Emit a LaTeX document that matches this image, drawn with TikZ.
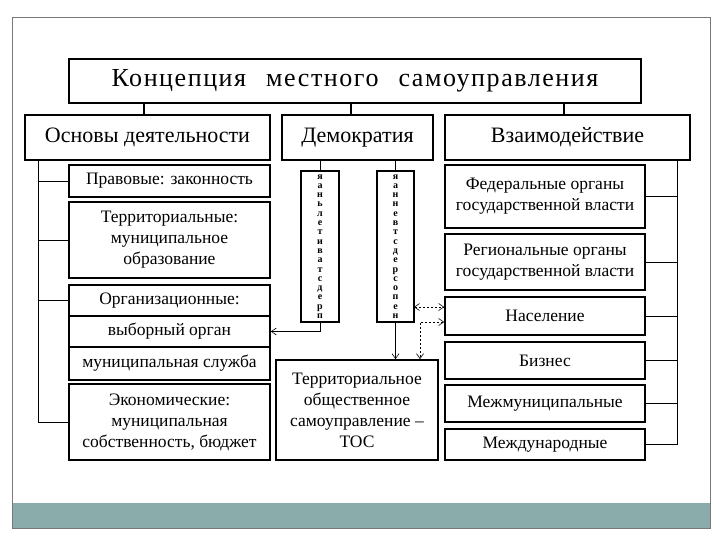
\documentclass[tikz,border=0pt]{standalone}
\usepackage{fontspec}
\setmainfont{Liberation Serif}
\usetikzlibrary{arrows.meta}
\definecolor{teal1}{RGB}{138,172,170}
\definecolor{frame1}{RGB}{120,120,120}
\tikzset{
  box/.style={draw, line width=1.7pt, inner sep=1pt, align=center, font=\fontsize{17.5}{21}\selectfont},
  headbox/.style={box, font=\fontsize{22}{24}\selectfont},
  vbox/.style={draw, line width=1.7pt, inner sep=0pt, align=center, font=\fontsize{10}{9.3}\selectfont\bfseries},
  conn/.style={line width=0.6pt},
  arr/.style={conn, -{Straight Barb[length=5pt,width=7pt]}},
  darr/.style={conn, dashed, dash pattern=on 2.5pt off 1.5pt, {Straight Barb[length=5pt,width=7pt]}-{Straight Barb[length=5pt,width=7pt]}}
}
\begin{document}
\begin{tikzpicture}[x=1pt,y=-1pt]
\useasboundingbox (0,0) rectangle (720,540);
% slide frame
\fill[teal1] (12,503) rectangle (710,528);
\draw[frame1, line width=0.7pt] (12,17) rectangle (710,528);

% title
\node[box, minimum width=572pt, minimum height=44pt, font=\fontsize{26}{28}\selectfont\addfontfeature{LetterSpace=6}] (title) at (355,81)
  {Концепция\hspace{20pt}местного\hspace{20pt}самоуправления};

% second row
\node[headbox, minimum width=245pt, minimum height=45pt] (osn) at (147.5,137.5) {Основы деятельности};
\node[headbox, minimum width=151pt, minimum height=45pt] (dem) at (357.5,137.5) {Демократия};
\node[headbox, minimum width=245pt, minimum height=45pt] (vz) at (567.5,137.5) {Взаимодействие};

% left column
\node[box, minimum width=201pt, minimum height=32pt] (pr) at (169.5,181) {Правовые: законность};
\node[box, minimum width=201pt, minimum height=76pt] (ter) at (169.5,240) {Территориальные:\\муниципальное\\образование};
\node[box, minimum width=201pt, minimum height=31pt] (org) at (169.5,300.5) {Организационные:};
\node[box, minimum width=201pt, minimum height=31pt] (vyb) at (169.5,331.5) {выборный орган};
\node[box, minimum width=201pt, minimum height=33pt] (mun) at (169.5,363.5) {муниципальная служба};
\node[box, minimum width=201pt, minimum height=76pt] (eko) at (169.5,422) {Экономические:\\муниципальная\\собственность, бюджет};

% middle
\node[vbox, minimum width=38pt, minimum height=151pt] (vL) at (320,246.5)
  {я\\а\\н\\ь\\л\\е\\т\\и\\в\\а\\т\\с\\д\\е\\р\\п};
\node[vbox, minimum width=37pt, minimum height=151pt] (vR) at (395.5,246.5)
  {я\\а\\н\\н\\е\\в\\т\\с\\д\\е\\р\\с\\о\\п\\е\\н};
\node[box, minimum width=162pt, minimum height=100pt] (tos) at (357,410) {Территориальное\\общественное\\самоуправление –\\ТОС};

% right column
\node[box, minimum width=200pt, minimum height=63pt] (fed) at (545,196.5) {Федеральные органы\\государственной власти};
\node[box, minimum width=200pt, minimum height=56pt] (reg) at (545,262) {Региональные органы\\государственной власти};
\node[box, minimum width=200pt, minimum height=38pt] (nas) at (545,316) {Население};
\node[box, minimum width=200pt, minimum height=37pt] (biz) at (545,360.5) {Бизнес};
\node[box, minimum width=200pt, minimum height=37pt] (mm) at (545,403.5) {Межмуниципальные};
\node[box, minimum width=200pt, minimum height=31pt] (md) at (545,444.5) {Международные};

% title to second row
\coordinate (t1) at (144,103);
\coordinate (t2) at (351,103);
\coordinate (t3) at (564,103);
\draw[conn, line width=1.2pt] (t1) -- (t1 |- osn.north);
\draw[conn, line width=1.2pt] (t2) -- (t2 |- dem.north);
\draw[conn, line width=1.2pt] (t3) -- (t3 |- vz.north);

% left spine
\coordinate (ls) at (38,160);
\draw[conn] (ls) -- (ls |- eko.west) -- (eko.west);
\draw[conn] (ls |- pr.west) -- (pr.west);
\draw[conn] (ls |- ter.west) -- (ter.west);
\draw[conn] (ls |- org.west) -- (org.west);

% right spine
\coordinate (rs) at (677,160);
\draw[conn] (rs) -- (rs |- md.east) -- (md.east);
\draw[conn] (rs |- fed.east) -- (fed.east);
\draw[conn] (rs |- reg.east) -- (reg.east);
\draw[conn] (rs |- nas.east) -- (nas.east);
\draw[conn] (rs |- biz.east) -- (biz.east);
\draw[conn] (rs |- mm.east) -- (mm.east);

% democracy branches
\draw[conn] (vL.north |- dem.south) -- (vL.north);
\draw[conn] (vR.north |- dem.south) -- (vR.north);
\draw[arr] (vL.south) |- (vyb.east);
\draw[arr] (vR.south) -- (vR.south |- tos.north);
\coordinate (d1) at (414,307);
\draw[darr] (d1) -- (d1 -| nas.west);
\coordinate (c2) at (420,322);
\draw[darr] (c2 -| nas.west) -- (c2) -- (c2 |- tos.north);
\end{tikzpicture}
\end{document}
